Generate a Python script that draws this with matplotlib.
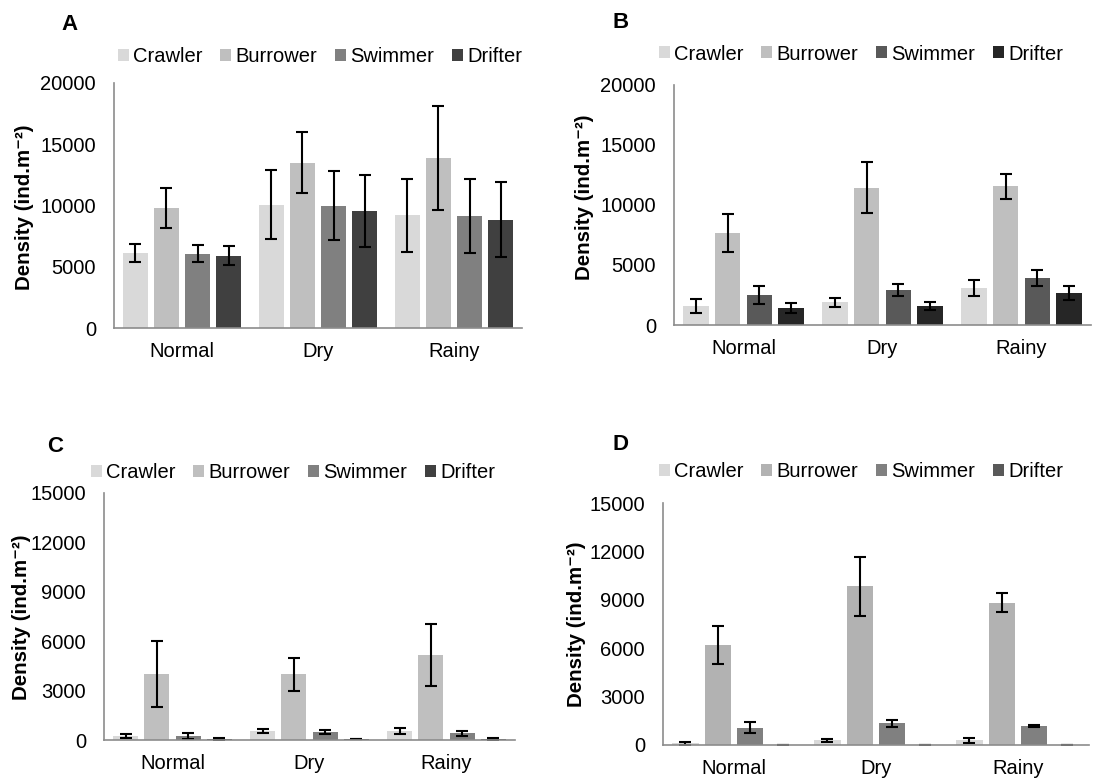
import matplotlib
matplotlib.use('Agg')
import matplotlib.pyplot as plt
import numpy as np

plt.rcParams['font.family'] = ['Liberation Sans', 'DejaVu Sans']

seasons = ['Normal', 'Dry', 'Rainy']
groups = ['Crawler', 'Burrower', 'Swimmer', 'Drifter']

# panel A
a_mean = [[6100, 10070, 9220], [9800, 13500, 13880], [6070, 9990, 9140], [5900, 9580, 8820]]
a_err = [[730, 2800, 2980], [1630, 2490, 4220], [680, 2800, 3020], [770, 2950, 3060]]
# panel B
b_mean = [[1580, 1890, 3080], [7640, 11440, 11560], [2500, 2940, 3940], [1390, 1580, 2690]]
b_err = [[620, 370, 650], [1580, 2110, 1040], [770, 510, 650], [430, 300, 570]]
# panel C
c_mean = [[260, 550, 530], [3990, 3990, 5170], [260, 470, 410], [60, 60, 80]]
c_err = [[130, 140, 190], [2010, 1010, 1870], [180, 130, 150], [40, 20, 60]]
# panel D
d_mean = [[100, 290, 290], [6210, 9830, 8830], [1080, 1340, 1180], [20, 20, 20]]
d_err = [[70, 100, 150], [1190, 1840, 590], [350, 220, 80], [0, 0, 0]]

W, H = 1115, 780
fig = plt.figure(figsize=(W / 100, H / 100), dpi=100)


def panel(box, means, errs, colors, ymax, step, letter, letter_xy, leg_xy, ylab_xy):
    l, r, t, b = box
    ax = fig.add_axes([l / W, 1 - b / H, (r - l) / W, (b - t) / H])
    x = np.arange(len(seasons))
    for i in range(4):
        ax.bar(x + (i - 1.5) * 0.228, means[i], 0.184, color=colors[i], label=groups[i],
               yerr=errs[i], capsize=4.3, error_kw=dict(elinewidth=1.5, capthick=1.5, ecolor='black'))
    ax.set_xlim(-0.5, 2.5)
    ax.set_ylim(0, ymax)
    ax.set_yticks(np.arange(0, ymax + 1, step))
    ax.set_xticks(x)
    ax.set_xticklabels(seasons)
    ax.tick_params(length=0, labelsize=14.5)
    ax.tick_params(axis='y', pad=13)
    ax.tick_params(axis='x', pad=10)
    for s in ['top', 'right']:
        ax.spines[s].set_visible(False)
    for s in ['left', 'bottom']:
        ax.spines[s].set_color('#8c8c8c')
        ax.spines[s].set_linewidth(1.2)
    ax.legend(loc='center', bbox_to_anchor=(leg_xy[0] / W, 1 - leg_xy[1] / H),
              bbox_transform=fig.transFigure, ncol=4, frameon=False, fontsize=14.5,
              handlelength=0.55, handleheight=0.55, handletextpad=0.2, columnspacing=0.9)
    fig.text(letter_xy[0] / W, 1 - letter_xy[1] / H, letter, fontsize=16, fontweight='bold',
             ha='center', va='center')
    fig.text(ylab_xy[0] / W, 1 - ylab_xy[1] / H, 'Density (ind.m⁻²)', fontsize=14.8,
             fontweight='bold', rotation=90, ha='center', va='center')
    return ax


panel((114, 522, 83, 328), a_mean, a_err, ['#d9d9d9', '#bfbfbf', '#808080', '#404040'],
      20000, 5000, 'A', (70, 25), (320, 57), (25, 207))
panel((674, 1091, 85, 325), b_mean, b_err, ['#d9d9d9', '#bfbfbf', '#595959', '#262626'],
      20000, 5000, 'B', (621, 22), (861, 54), (585, 197))
panel((104, 515, 493, 740), c_mean, c_err, ['#d9d9d9', '#bfbfbf', '#808080', '#404040'],
      15000, 3000, 'C', (55, 446), (293, 473), (22, 617))
panel((663, 1089, 503, 745), d_mean, d_err, ['#d9d9d9', '#b2b2b2', '#808080', '#595959'],
      15000, 3000, 'D', (621, 445), (861, 472), (576, 624))

fig.savefig('out.png', dpi=100)
